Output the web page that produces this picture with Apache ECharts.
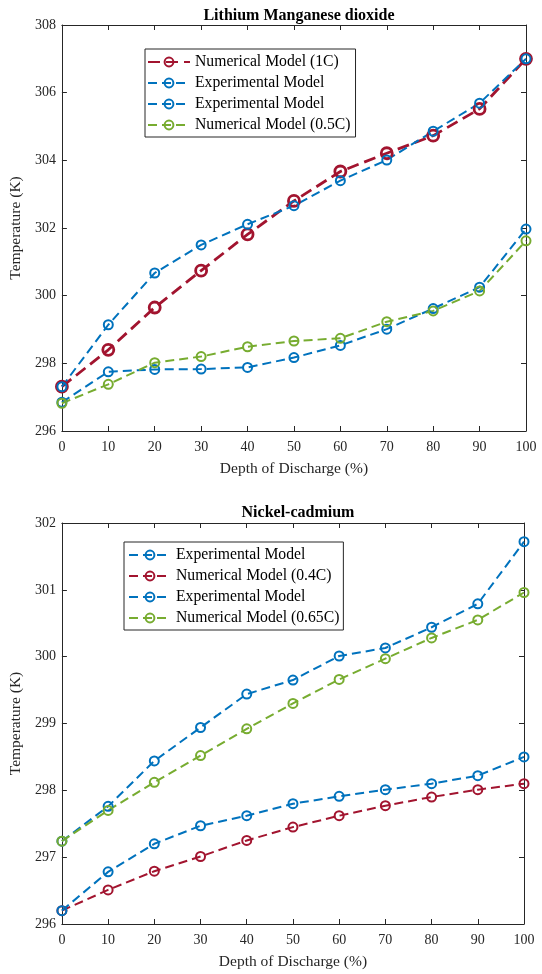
<!DOCTYPE html>
<html>
<head>
<meta charset="utf-8">
<script src="https://cdn.jsdelivr.net/npm/echarts@6/dist/echarts.min.js"></script>
<style>
  html, body { margin: 0; padding: 0; background: #fff; }
  #chart { width: 542px; height: 974px; }
</style>
</head>
<body>
<div id="chart"></div>
<script>
// depth of discharge (%)
const dod = [0, 10, 20, 30, 40, 50, 60, 70, 80, 90, 100];

// Lithium Manganese dioxide, temperature (K)
const lmoNum1C = [297.31, 298.40, 299.65, 300.74, 301.81, 302.80, 303.67, 304.21, 304.73, 305.52, 307.00];
const lmoExpA = [297.31, 299.14, 300.67, 301.50, 302.11, 302.66, 303.40, 304.01, 304.86, 305.69, 307.00];
const lmoExpB = [296.85, 297.75, 297.82, 297.83, 297.88, 298.17, 298.53, 299.01, 299.62, 300.25, 301.97];
const lmoNum05C = [296.82, 297.38, 298.02, 298.20, 298.49, 298.66, 298.74, 299.23, 299.55, 300.14, 301.62];

// Nickel-cadmium, temperature (K)
const nicdExpA = [297.24, 297.76, 298.44, 298.94, 299.44, 299.65, 300.01, 300.13, 300.44, 300.79, 301.72];
const nicdNum04C = [296.20, 296.51, 296.79, 297.01, 297.25, 297.45, 297.62, 297.77, 297.90, 298.01, 298.10];
const nicdExpB = [296.20, 296.78, 297.20, 297.47, 297.62, 297.80, 297.91, 298.01, 298.10, 298.22, 298.50];
const nicdNum065C = [297.24, 297.70, 298.12, 298.52, 298.92, 299.30, 299.66, 299.97, 300.28, 300.55, 300.96];

const RED = "#A2142F";
const BLUE = "#0072BD";
const GREEN = "#77AC30";
const AXIS = "#262626";
const FONT = "'Liberation Serif', 'Times New Roman', serif";

const chartInstance = echarts.init(document.getElementById("chart"), null, { renderer: "canvas" });

function pairs(ys) {
  return dod.map((x, i) => [x, ys[i]]);
}

function line(name, ys, color, idx, thick) {
  const w = thick ? 2.8 : 2;
  return {
    name: name,
    type: "line",
    xAxisIndex: idx,
    yAxisIndex: idx,
    data: pairs(ys),
    symbol: "circle",
    symbolSize: thick ? 11 : 9,
    itemStyle: { color: "rgba(255,255,255,0)", borderColor: color, borderWidth: w },
    lineStyle: { color: color, width: w, type: thick ? [12, 6] : [9, 5] },
    emphasis: { disabled: true },
  };
}

function xAxes(grid) {
  const tick = { show: true, inside: true, length: 5, lineStyle: { color: AXIS } };
  const axisLine = { show: true, onZero: false, lineStyle: { color: AXIS, width: 1 } };
  return [
    {
      gridIndex: grid, type: "value", min: 0, max: 100, interval: 10, position: "bottom",
      name: "Depth of Discharge (%)", nameLocation: "middle", nameGap: 30,
      nameTextStyle: { fontFamily: FONT, fontSize: 15.5, color: AXIS },
      axisLine: axisLine, axisTick: tick,
      axisLabel: { fontFamily: FONT, fontSize: 14, color: AXIS, margin: 9 },
      splitLine: { show: false },
    },
    {
      gridIndex: grid, type: "value", min: 0, max: 100, interval: 10, position: "top",
      axisLine: axisLine, axisTick: tick, axisLabel: { show: false }, splitLine: { show: false },
    },
  ];
}

function yAxes(grid, min, max, interval) {
  const tick = { show: true, inside: true, length: 5, lineStyle: { color: AXIS } };
  const axisLine = { show: true, onZero: false, lineStyle: { color: AXIS, width: 1 } };
  return [
    {
      gridIndex: grid, type: "value", min: min, max: max, interval: interval, position: "left",
      name: "Temperature (K)", nameLocation: "middle", nameGap: 31,
      nameTextStyle: { fontFamily: FONT, fontSize: 15.5, color: AXIS },
      axisLine: axisLine, axisTick: tick,
      axisLabel: { fontFamily: FONT, fontSize: 14, color: AXIS, margin: 6 },
      splitLine: { show: false },
    },
    {
      gridIndex: grid, type: "value", min: min, max: max, interval: interval, position: "right",
      axisLine: axisLine, axisTick: tick, axisLabel: { show: false }, splitLine: { show: false },
    },
  ];
}

const legendBase = {
  orient: "vertical",
  itemWidth: 42,
  itemHeight: 11,
  itemGap: 5,
  backgroundColor: "#fff",
  borderColor: AXIS,
  borderWidth: 1,
  borderRadius: 0,
  selectedMode: false,
  textStyle: { fontFamily: FONT, fontSize: 15.7, color: "#000" },
  // two series share the label "Experimental Model"; the suffix only keeps them apart
  formatter: (n) => n.split("#")[0],
};

const option = {
  animation: false,
  backgroundColor: "#fff",
  title: [
    {
      text: "Lithium Manganese dioxide", left: 294, top: 3, textAlign: "center",
      textStyle: { fontFamily: FONT, fontSize: 16, fontWeight: "bold", color: "#000" },
    },
    {
      text: "Nickel-cadmium", left: 293, top: 500, textAlign: "center",
      textStyle: { fontFamily: FONT, fontSize: 16, fontWeight: "bold", color: "#000" },
    },
  ],
  grid: [
    { left: 60, top: 25, width: 466, height: 406 },
    { left: 61, top: 523, width: 463, height: 401 },
  ],
  xAxis: [...xAxes(0), ...xAxes(1)],
  yAxis: [...yAxes(0, 296, 308, 2), ...yAxes(1, 296, 302, 1)],
  legend: [
    Object.assign({}, legendBase, {
      left: 145, top: 49, padding: [5, 5, 4, 2],
      data: ["Numerical Model (1C)", "Experimental Model#a", "Experimental Model#b", "Numerical Model (0.5C)"],
    }),
    Object.assign({}, legendBase, {
      left: 124, top: 542, padding: [5, 4, 4, 4],
      data: ["Experimental Model#c", "Numerical Model (0.4C)", "Experimental Model#d", "Numerical Model (0.65C)"],
    }),
  ],
  series: [
    line("Numerical Model (1C)", lmoNum1C, RED, 0, true),
    line("Experimental Model#a", lmoExpA, BLUE, 0),
    line("Experimental Model#b", lmoExpB, BLUE, 0),
    line("Numerical Model (0.5C)", lmoNum05C, GREEN, 0),
    line("Experimental Model#c", nicdExpA, BLUE, 2),
    line("Numerical Model (0.4C)", nicdNum04C, RED, 2),
    line("Experimental Model#d", nicdExpB, BLUE, 2),
    line("Numerical Model (0.65C)", nicdNum065C, GREEN, 2),
  ],
};

chartInstance.setOption(option);
</script>
</body>
</html>
